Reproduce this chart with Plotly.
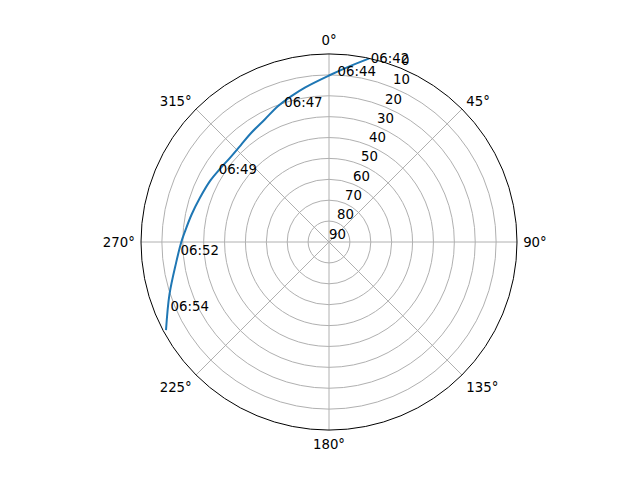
import plotly.graph_objects as go

# Satellite pass track (azimuth in degrees, elevation in degrees)
track_az = [12.4, 6.1, 0.0, 351.3, 345.7, 339.5, 332.2, 324.3, 317.6, 310.8,
            304.1, 297.2, 288.9, 281.2, 274.0, 270.0, 262.4, 251.8, 241.6]
track_el = [0.0, 5.8, 10.3, 15.1, 17.8, 20.5, 23.8, 25.9, 27.3, 27.8,
            27.2, 26.0, 24.7, 22.9, 20.8, 19.3, 16.2, 9.6, 1.3]

# Time labels along the track
label_text = ["06:42", "06:44", "06:47", "06:49", "06:52", "06:54"]
label_az = [12.9, 2.9, 342.1, 302.9, 266.1, 247.5]
label_el = [0.4, 8.9, 20.3, 27.1, 18.8, 7.9]

angle_ticks = [0, 45, 90, 135, 180, 225, 270, 315]
radial_ticks = [0, 10, 20, 30, 40, 50, 60, 70, 80, 90]
radial_label_angle = 22.5

FONT = dict(family="DejaVu Sans", size=13.3, color="black")

fig = go.Figure()
fig.add_trace(go.Scatterpolar(
    r=track_el, theta=track_az, mode="lines",
    line=dict(color="#1f77b4", width=2, shape="spline", smoothing=1.0),
    hoverinfo="skip", showlegend=False))
fig.add_trace(go.Scatterpolar(
    r=label_el, theta=label_az, mode="text", text=label_text,
    textposition="middle right", textfont=FONT, hoverinfo="skip", showlegend=False))
# radial tick labels, placed along the 22.5° direction like matplotlib
fig.add_trace(go.Scatterpolar(
    r=radial_ticks, theta=[radial_label_angle] * len(radial_ticks), mode="text",
    text=[str(v) for v in radial_ticks],
    textposition="top right", textfont=FONT, hoverinfo="skip", showlegend=False))

fig.update_layout(
    width=640, height=480,
    margin=dict(l=133, r=131, t=46, b=58),
    paper_bgcolor="white",
    font=FONT,
    polar=dict(
        bgcolor="white",
        domain=dict(x=[0, 1], y=[0, 1]),
        angularaxis=dict(
            rotation=90, direction="clockwise",
            tickmode="array", tickvals=angle_ticks,
            ticktext=[f"{a}°" for a in angle_ticks],
            ticks="outside", ticklen=3, tickcolor="rgba(0,0,0,0)",
            showline=True, linecolor="black", linewidth=1,
            showgrid=True, gridcolor="#b0b0b0", gridwidth=1,
            tickfont=FONT,
        ),
        radialaxis=dict(
            range=[90, 0], angle=67.5,
            tickmode="array", tickvals=radial_ticks,
            showticklabels=False,
            ticks="", showline=False,
            showgrid=True, gridcolor="#b0b0b0", gridwidth=1,
        ),
    ),
)

fig.write_html("out.html")
